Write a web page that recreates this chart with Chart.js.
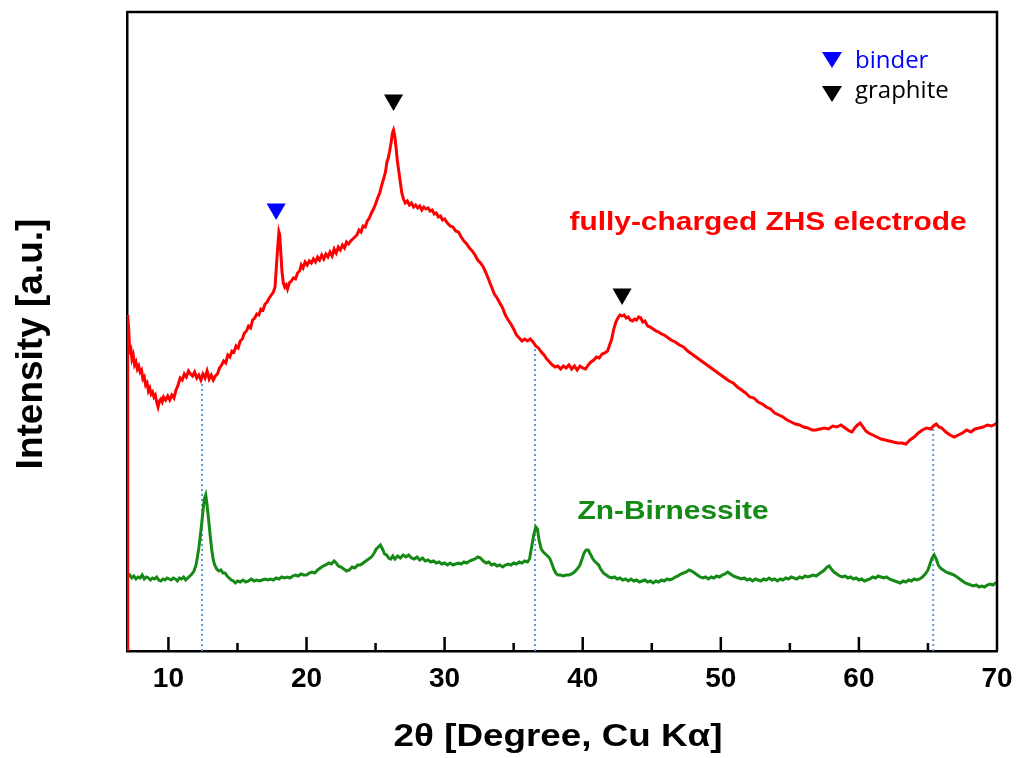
<!DOCTYPE html>
<html>
<head>
<meta charset="utf-8">
<title>XRD - fully-charged ZHS electrode vs Zn-Birnessite</title>
<script src="https://cdn.jsdelivr.net/npm/chart.js@4.4.1/dist/chart.umd.min.js"></script>
<style>
  html, body { margin: 0; padding: 0; background: #fff; }
  #xrd { display: block; }
</style>
</head>
<body>
<canvas id="xrd" width="1017" height="758"></canvas>
<script>
// ===============================
// DONNEES (2theta, intensité u.a.)
// ===============================

const xTicks = [10, 20, 30, 40, 50, 60, 70];
const xMinorTicks = [15, 25, 35, 45, 55, 65];

// electrode chargée (rouge)
const chargedScan = [
  [7.05,0],[7.05,336],[7.12,322],[7.2,300],[7.28,302],[7.36,292],[7.45,296],[7.55,286],[7.65,289],[7.75,282],
  [7.85,285],[7.95,279],[8.05,281],[8.15,272],[8.25,274],[8.35,266],[8.45,268],[8.55,260],[8.65,263],[8.75,257],
  [8.85,259],[8.95,254],[9.05,256],[9.15,249],[9.25,244],[9.35,250],[9.45,252],[9.55,249],[9.65,254],[9.8,251],
  [9.95,255],[10.1,251],[10.25,256],[10.4,253],[10.55,261],[10.7,266],[10.85,273],[11.0,271],[11.15,277],[11.3,274],
  [11.45,280],[11.6,277],[11.75,275],[11.9,279],[12.05,273],[12.2,276],[12.35,271],[12.5,277],[12.65,273],[12.8,280],
  [12.95,272],[13.1,276],[13.25,271],[13.4,275],[13.55,277],[13.7,283],[13.85,286],[14.0,290],[14.15,288],[14.3,296],
  [14.45,294],[14.6,300],[14.75,299],[14.9,305],[15.05,303],[15.2,310],[15.35,312],[15.5,318],[15.65,320],[15.8,325],
  [15.95,323],[16.1,331],[16.25,333],[16.4,337],[16.55,336],[16.7,342],[16.85,341],[17.0,347],[17.15,349],[17.3,353],
  [17.45,356],[17.6,359],[17.72,364],[17.82,385],[17.92,405],[18.0,419],[18.06,416],[18.14,398],[18.22,380],[18.32,368],
  [18.42,364],[18.52,366],[18.62,362],[18.75,368],[18.9,370],[19.05,373],[19.2,372],[19.35,378],[19.5,380],[19.62,386],
  [19.75,383],[19.9,389],[20.05,386],[20.2,390],[20.35,388],[20.5,392],[20.65,389],[20.8,394],[20.95,391],[21.1,396],
  [21.25,392],[21.4,397],[21.55,394],[21.7,399],[21.85,395],[22.0,402],[22.15,398],[22.3,404],[22.45,401],[22.6,406],
  [22.75,403],[22.9,409],[23.05,407],[23.2,410],[23.35,412],[23.5,414],[23.65,416],[23.8,421],[23.95,419],[24.1,425],
  [24.25,424],[24.4,430],[24.55,433],[24.7,438],[24.85,442],[25.0,447],[25.15,453],[25.3,458],[25.45,466],[25.6,473],
  [25.72,479],[25.82,489],[25.92,493],[26.02,500],[26.12,508],[26.22,518],[26.3,521],[26.38,516],[26.48,504],[26.58,490],
  [26.68,480],[26.78,470],[26.9,458],[27.02,452],[27.15,448],[27.3,450],[27.45,446],[27.6,448],[27.75,444],[27.9,446],
  [28.05,443],[28.2,445],[28.35,441],[28.5,444],[28.65,442],[28.8,443],[28.95,440],[29.1,441],[29.25,437],[29.4,438],
  [29.55,434],[29.7,435],[29.85,431],[30.0,432],[30.2,428],[30.4,425],[30.6,424],[30.8,420],[31.0,419],[31.2,414],
  [31.4,410],[31.6,407],[31.8,403],[32.0,400],[32.2,396],[32.4,391],[32.6,388],[32.8,384],[33.0,378],[33.2,371],
  [33.4,364],[33.6,357],[33.8,353],[34.0,348],[34.2,343],[34.4,336],[34.6,331],[34.8,327],[35.0,322],[35.2,316],
  [35.4,313],[35.6,310],[35.8,312],[36.0,310],[36.2,312],[36.4,309],[36.6,305],[36.8,303],[37.0,299],[37.2,296],
  [37.4,292],[37.6,289],[37.8,286],[38.0,284],[38.2,285],[38.4,282],[38.6,285],[38.8,283],[39.0,286],[39.2,282],
  [39.4,285],[39.6,281],[39.8,285],[40.0,283],[40.2,282],[40.4,286],[40.6,289],[40.8,291],[41.0,294],[41.2,293],
  [41.4,297],[41.6,298],[41.8,300],[41.95,306],[42.1,312],[42.25,322],[42.4,329],[42.55,333],[42.7,336],[42.85,335],
  [43.0,336],[43.15,333],[43.3,334],[43.45,331],[43.6,330],[43.75,332],[43.9,331],[44.05,334],[44.2,333],[44.35,329],
  [44.5,330],[44.7,325],[44.9,324],[45.1,322],[45.3,320],[45.5,319],[45.7,317],[45.9,316],[46.1,314],[46.4,311],
  [46.7,309],[47.0,306],[47.3,304],[47.6,300],[47.9,297],[48.2,294],[48.5,291],[48.8,288],[49.1,285],[49.4,282],
  [49.7,279],[50.0,276],[50.3,273],[50.6,270],[50.9,268],[51.2,264],[51.5,261],[51.8,258],[52.1,254],[52.4,253],
  [52.7,249],[53.0,247],[53.3,244],[53.6,242],[53.9,238],[54.2,236],[54.5,234],[54.8,231],[55.1,229],[55.4,227],
  [55.7,226],[56.0,224],[56.3,223],[56.6,221],[56.9,221],[57.2,222],[57.5,223],[57.8,222],[58.1,225],[58.4,224],
  [58.7,226],[59.0,223],[59.3,220],[59.5,219],[59.7,223],[59.9,226],[60.1,228],[60.3,224],[60.5,220],[60.7,218],
  [61.0,216],[61.3,214],[61.6,212],[61.9,211],[62.2,210],[62.5,209],[62.8,208],[63.1,208],[63.4,207],[63.7,211],
  [64.0,214],[64.3,218],[64.6,221],[64.9,223],[65.2,222],[65.4,225],[65.6,227],[65.8,224],[66.0,223],[66.3,219],
  [66.6,216],[66.9,214],[67.2,216],[67.5,218],[67.8,221],[68.1,219],[68.4,222],[68.7,223],[69.0,224],[69.3,226],
  [69.6,225],[69.9,227],[70.0,228]
];

// Zn-Birnessite (vert)
const birnessiteScan = [
  [7.05,74],[7.2,76],[7.35,73],[7.5,75],[7.65,72],[7.8,74],[7.95,73],[8.1,76],[8.25,72],[8.4,74],
  [8.55,73],[8.7,71],[8.85,73],[9.0,72],[9.15,74],[9.3,71],[9.45,70],[9.6,72],[9.75,71],[9.9,73],
  [10.05,72],[10.2,71],[10.35,73],[10.5,72],[10.65,70],[10.8,73],[10.95,72],[11.1,74],[11.25,71],[11.4,73],
  [11.55,75],[11.7,77],[11.85,80],[12.0,86],[12.1,94],[12.2,103],[12.3,114],[12.4,126],[12.5,140],[12.6,152],
  [12.7,156],[12.78,148],[12.86,138],[12.95,126],[13.05,112],[13.15,100],[13.25,91],[13.35,86],[13.5,82],[13.65,80],
  [13.8,81],[13.95,78],[14.1,78],[14.25,75],[14.4,73],[14.55,71],[14.7,70],[14.85,68],[15.0,70],[15.2,69],
  [15.4,71],[15.6,69],[15.8,70],[16.0,72],[16.2,70],[16.4,71],[16.6,70],[16.8,71],[17.0,72],[17.2,71],
  [17.4,72],[17.6,71],[17.8,73],[18.0,72],[18.2,74],[18.4,73],[18.6,74],[18.8,73],[19.0,75],[19.2,76],
  [19.4,75],[19.6,77],[19.8,76],[20.0,76],[20.2,78],[20.4,79],[20.6,78],[20.8,81],[21.0,83],[21.2,85],
  [21.4,86],[21.6,88],[21.8,87],[22.0,90],[22.15,88],[22.3,85],[22.5,84],[22.7,82],[22.9,80],[23.1,81],
  [23.3,84],[23.5,83],[23.7,86],[23.9,86],[24.1,88],[24.3,90],[24.5,92],[24.7,94],[24.9,98],[25.05,102],
  [25.2,104],[25.35,106],[25.5,102],[25.65,97],[25.8,96],[25.95,93],[26.1,92],[26.25,95],[26.4,92],[26.6,95],
  [26.8,93],[27.0,96],[27.2,94],[27.4,96],[27.6,93],[27.8,92],[28.0,94],[28.2,91],[28.4,93],[28.6,90],
  [28.8,91],[29.0,89],[29.2,90],[29.4,88],[29.6,89],[29.8,87],[30.0,88],[30.2,86],[30.4,88],[30.6,86],
  [30.8,87],[31.0,88],[31.2,87],[31.4,89],[31.6,88],[31.8,90],[32.0,91],[32.2,92],[32.4,94],[32.6,93],
  [32.8,90],[33.0,88],[33.2,89],[33.4,86],[33.6,87],[33.8,85],[34.0,86],[34.2,84],[34.4,86],[34.6,87],
  [34.8,86],[35.0,88],[35.2,87],[35.4,89],[35.6,88],[35.8,90],[36.0,89],[36.15,92],[36.3,104],[36.45,116],
  [36.6,124],[36.72,122],[36.85,110],[37.0,102],[37.15,99],[37.3,97],[37.45,95],[37.6,93],[37.75,88],[37.9,82],
  [38.05,78],[38.2,76],[38.4,76],[38.6,75],[38.8,76],[39.0,76],[39.2,77],[39.4,79],[39.6,82],[39.8,86],
  [39.95,92],[40.1,98],[40.25,101],[40.4,101],[40.55,97],[40.7,93],[40.85,90],[41.0,88],[41.15,86],[41.3,82],
  [41.5,78],[41.7,76],[41.9,74],[42.1,73],[42.3,74],[42.5,72],[42.7,73],[42.9,71],[43.1,72],[43.3,70],
  [43.5,72],[43.7,70],[43.9,71],[44.1,69],[44.3,70],[44.5,71],[44.7,69],[44.9,70],[45.1,68],[45.3,70],
  [45.5,69],[45.7,71],[45.9,70],[46.1,72],[46.3,71],[46.5,72],[46.7,74],[46.9,75],[47.1,77],[47.3,78],
  [47.5,79],[47.7,81],[47.9,80],[48.1,78],[48.3,76],[48.5,74],[48.7,73],[48.9,74],[49.1,72],[49.3,74],
  [49.5,73],[49.7,75],[49.9,74],[50.1,76],[50.3,77],[50.5,79],[50.7,77],[50.9,75],[51.1,74],[51.3,73],
  [51.5,72],[51.7,73],[51.9,71],[52.1,72],[52.3,70],[52.5,72],[52.7,71],[52.9,70],[53.1,72],[53.3,71],
  [53.5,73],[53.7,71],[53.9,72],[54.1,70],[54.3,72],[54.5,71],[54.7,73],[54.9,72],[55.1,74],[55.3,73],
  [55.5,72],[55.7,74],[55.9,73],[56.1,75],[56.3,74],[56.5,75],[56.7,76],[56.9,75],[57.1,77],[57.3,79],
  [57.5,81],[57.7,84],[57.85,85],[58.0,82],[58.2,79],[58.4,77],[58.6,75],[58.8,74],[59.0,75],[59.2,73],
  [59.4,74],[59.6,72],[59.8,73],[60.0,71],[60.2,72],[60.4,70],[60.6,71],[60.8,72],[61.0,74],[61.2,73],
  [61.4,75],[61.6,74],[61.8,73],[62.0,74],[62.2,72],[62.4,71],[62.6,70],[62.8,69],[63.0,68],[63.2,70],
  [63.4,69],[63.6,71],[63.8,70],[64.0,72],[64.2,71],[64.4,72],[64.6,74],[64.8,77],[65.0,81],[65.15,87],
  [65.3,93],[65.45,96],[65.6,92],[65.75,86],[65.9,83],[66.1,81],[66.3,79],[66.5,78],[66.7,77],[66.9,76],
  [67.1,74],[67.3,72],[67.5,70],[67.7,68],[67.9,67],[68.1,66],[68.3,65],[68.5,66],[68.7,64],[68.9,65],
  [69.1,64],[69.3,66],[69.5,67],[69.7,66],[69.9,68],[70.0,68]
];

// lignes pointillées (pics communs)
const refTheta = [12.43, 36.55, 65.38];
const refTop = [271, 309, 226];

// marqueurs de pics
const binderPeaks = [[17.8, 442]];
const graphitePeaks = [[26.3, 551], [42.85, 357]];

const toXY = arr => arr.map(p => ({ x: p[0], y: p[1] }));

// ===============================
// CADRE, TICKS INTERNES, TEXTES
// ===============================

function stretchText(ctx, text, x, y, sx) {
    ctx.save();
    ctx.translate(x, y);
    ctx.scale(sx, 1);
    ctx.fillText(text, 0, 0);
    ctx.restore();
}

const decorPlugin = {
    id: 'decor',
    afterDraw(chart) {
        const { ctx, chartArea: a, scales: { x } } = chart;
        ctx.save();

        // cadre haut + droite
        ctx.strokeStyle = '#000';
        ctx.lineWidth = 2.5;
        ctx.beginPath();
        ctx.moveTo(a.left, a.top);
        ctx.lineTo(a.right, a.top);
        ctx.lineTo(a.right, a.bottom);
        ctx.stroke();

        // ticks vers l'intérieur
        ctx.beginPath();
        xTicks.forEach(v => {
            const px = x.getPixelForValue(v);
            if (px < a.right - 2) { ctx.moveTo(px, a.bottom); ctx.lineTo(px, a.bottom - 14); }
        });
        xMinorTicks.forEach(v => {
            const px = x.getPixelForValue(v);
            ctx.moveTo(px, a.bottom); ctx.lineTo(px, a.bottom - 8);
        });
        ctx.stroke();

        // titres des axes
        ctx.fillStyle = '#000';
        ctx.textAlign = 'center';
        ctx.textBaseline = 'alphabetic';
        ctx.font = 'bold 32px "Liberation Sans", Arial, sans-serif';
        stretchText(ctx, '2θ [Degree, Cu Kα]', 558, 746, 1.15);

        ctx.save();
        ctx.translate(42, 344);
        ctx.rotate(-Math.PI / 2);
        ctx.font = 'bold 37px "Liberation Sans", Arial, sans-serif';
        ctx.fillText('Intensity [a.u.]', 0, 0);
        ctx.restore();

        // étiquettes des courbes
        ctx.font = 'bold 26px "Liberation Sans", Arial, sans-serif';
        ctx.fillStyle = '#ff0000';
        stretchText(ctx, 'fully-charged ZHS electrode', 768, 230, 1.15);
        ctx.fillStyle = '#168a16';
        stretchText(ctx, 'Zn-Birnessite', 673, 519, 1.15);

        // légende des marqueurs
        const legend = [['binder', '#0000ff', 52, 68], ['graphite', '#000000', 86, 98]];
        legend.forEach(([label, color, ty, by]) => {
            ctx.fillStyle = color;
            ctx.beginPath();
            ctx.moveTo(822, ty); ctx.lineTo(842, ty); ctx.lineTo(832, ty + 16);
            ctx.closePath();
            ctx.fill();
            ctx.textAlign = 'left';
            ctx.font = '24px "Open Sans", sans-serif';
            ctx.fillText(label, 855, by);
        });

        ctx.restore();
    }
};

// ===============================
// GRAPHIQUE
// ===============================

const datasets = [
    {
        label: 'binder',
        data: toXY(binderPeaks),
        showLine: false,
        pointStyle: 'triangle',
        rotation: 180,
        pointRadius: 11,
        backgroundColor: '#0000ff',
        borderColor: '#0000ff',
        borderWidth: 0
    },
    {
        label: 'graphite',
        data: toXY(graphitePeaks),
        showLine: false,
        pointStyle: 'triangle',
        rotation: 180,
        pointRadius: 11,
        backgroundColor: '#000000',
        borderColor: '#000000',
        borderWidth: 0
    },
    {
        label: 'fully-charged ZHS electrode',
        data: toXY(chargedScan),
        borderColor: '#ff0000',
        borderWidth: 3,
        pointRadius: 0,
        tension: 0
    },
    {
        label: 'Zn-Birnessite',
        data: toXY(birnessiteScan),
        borderColor: '#168a16',
        borderWidth: 3,
        pointRadius: 0,
        tension: 0
    }
];

refTheta.forEach((t, i) => {
    datasets.push({
        label: 'ref' + i,
        data: [{ x: t, y: 0 }, { x: t, y: refTop[i] }],
        borderColor: '#5b9bd5',
        borderWidth: 2,
        borderDash: [2, 3],
        pointRadius: 0
    });
});

new Chart(document.getElementById('xrd').getContext('2d'), {
    type: 'line',
    data: { datasets: datasets },
    options: {
        responsive: false,
        animation: false,
        layout: { padding: { top: 12, right: 20, left: 0, bottom: 0 } },
        plugins: { legend: { display: false }, tooltip: { enabled: false } },
        scales: {
            x: {
                type: 'linear',
                min: 7,
                max: 70,
                afterBuildTicks: scale => { scale.ticks = xTicks.map(v => ({ value: v })); },
                afterFit: scale => { scale.height = 107; scale.paddingLeft = 0; scale.paddingRight = 0; },
                grid: { display: false, drawTicks: false },
                border: { display: true, color: '#000', width: 2.5 },
                ticks: {
                    padding: 11,
                    maxRotation: 0,
                    color: '#000',
                    font: { family: '"Liberation Sans", Arial, sans-serif', size: 28, weight: 'bold' }
                }
            },
            y: {
                min: 0,
                max: 639,
                afterFit: scale => { scale.width = 127; },
                grid: { display: false, drawTicks: false },
                border: { display: true, color: '#000', width: 2.5 },
                ticks: { display: false }
            }
        }
    },
    plugins: [decorPlugin]
});
</script>
</body>
</html>
